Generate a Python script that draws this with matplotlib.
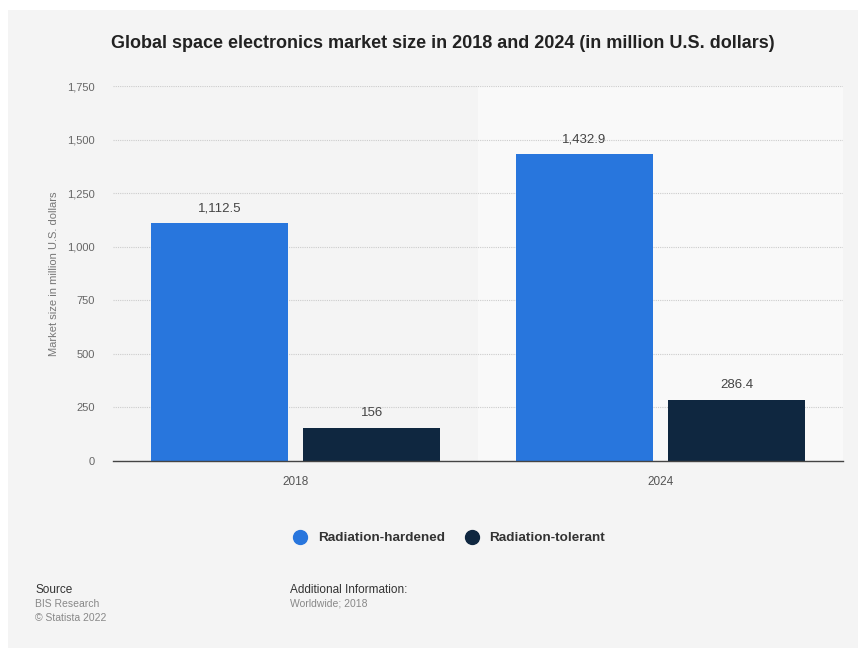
import matplotlib.pyplot as plt
from matplotlib.patches import Rectangle
from matplotlib.lines import Line2D
import numpy as np

plt.rcParams['font.family'] = ['Liberation Sans', 'DejaVu Sans']

years = ['2018', '2024']
hardened = [1112.5, 1432.9]
tolerant = [156, 286.4]
hardened_labels = ['1,112.5', '1,432.9']
tolerant_labels = ['156', '286.4']
y_ticks = [0, 250, 500, 750, 1000, 1250, 1500, 1750]

blue = '#2876dd'
navy = '#0f2740'
panel_bg = '#f4f4f4'

fig = plt.figure(figsize=(8.64, 6.51), dpi=100)
fig.patch.set_facecolor('white')

# light grey card behind everything
fig.patches.append(Rectangle((8 / 864, 3 / 651), 850 / 864, 638 / 651,
                             transform=fig.transFigure, facecolor=panel_bg,
                             edgecolor='none', zorder=-5))

ax = fig.add_axes([113 / 864, 1 - 461 / 651, 730 / 864, 375 / 651])
ax.set_zorder(2)
ax.set_facecolor(panel_bg)
ax.set_xlim(-0.5, 1.5)
ax.set_ylim(0, 1750)

# lighter band behind the second category
ax.axvspan(0.5, 1.5, color='#f9f9f9', zorder=0)

x = np.arange(len(years))
w = 0.375
off = 0.209
b1 = ax.bar(x - off, hardened, w, color=blue, zorder=3)
b2 = ax.bar(x + off, tolerant, w, color=navy, zorder=3)

for rect, lab in zip(b1, hardened_labels):
    ax.text(rect.get_x() + rect.get_width() / 2, rect.get_height() + 38, lab,
            ha='center', va='bottom', fontsize=9.5, color='#444444', zorder=4)
for rect, lab in zip(b2, tolerant_labels):
    ax.text(rect.get_x() + rect.get_width() / 2, rect.get_height() + 38, lab,
            ha='center', va='bottom', fontsize=9.5, color='#444444', zorder=4)

ax.set_yticks(y_ticks)
ax.set_yticklabels([f'{v:,}' for v in y_ticks], fontsize=8, color='#666666')
ax.yaxis.grid(True, linestyle=(0, (1, 1)), color='#cccccc', linewidth=0.8, zorder=1)
ax.set_xticks(x)
ax.set_xticklabels(years, fontsize=8.5, color='#555555')
ax.tick_params(axis='y', length=0, pad=13)
ax.tick_params(axis='x', length=0, pad=11)
for s in ['top', 'right', 'left']:
    ax.spines[s].set_visible(False)
ax.spines['bottom'].set_color('#444444')
ax.spines['bottom'].set_linewidth(1)
ax.spines['bottom'].set_zorder(5)
ax.set_ylabel('Market size in million U.S. dollars', fontsize=8, color='#777777', labelpad=6)

fig.text(443 / 864, 1 - 43 / 651,
         'Global space electronics market size in 2018 and 2024 (in million U.S. dollars)',
         ha='center', va='center', fontsize=13, fontweight='bold', color='#222222')

handles = [Line2D([], [], marker='o', linestyle='', markersize=10, color=blue),
           Line2D([], [], marker='o', linestyle='', markersize=10, color=navy)]
leg = fig.legend(handles, ['Radiation-hardened', 'Radiation-tolerant'],
                 loc='center', bbox_to_anchor=(446 / 864, 1 - 538 / 651), ncol=2,
                 frameon=False, handletextpad=0.3, columnspacing=1.0, fontsize=9.7)
for t in leg.get_texts():
    t.set_fontweight('bold')
    t.set_color('#333333')

fig.text(35 / 864, 1 - 590 / 651, 'Source', fontsize=8.5, color='#333333', va='center')
fig.text(35 / 864, 1 - 604 / 651, 'BIS Research', fontsize=7.5, color='#888888', va='center')
fig.text(35 / 864, 1 - 618 / 651, '\u00a9 Statista 2022', fontsize=7.5, color='#888888', va='center')
fig.text(290 / 864, 1 - 590 / 651, 'Additional Information:', fontsize=8.5, color='#333333', va='center')
fig.text(290 / 864, 1 - 604 / 651, 'Worldwide; 2018', fontsize=7.5, color='#888888', va='center')

fig.savefig('out.png', dpi=100, facecolor=fig.get_facecolor())
